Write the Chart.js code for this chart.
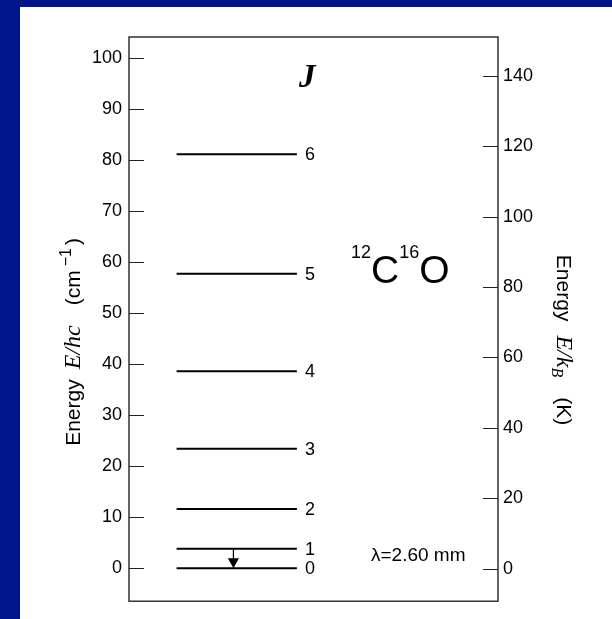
<!DOCTYPE html>
<html>
<head>
<meta charset="utf-8">
<script src="https://cdn.jsdelivr.net/npm/chart.js@4.4.0/dist/chart.umd.min.js"></script>
<style>
  html, body { margin: 0; padding: 0; background: rgb(0,21,136); width: 612px; height: 619px; overflow: hidden; }
  #wrap { position: absolute; left: 20px; top: 7px; width: 592px; height: 612px; background: #fff; }
  canvas { display: block; }
</style>
</head>
<body>
<div id="wrap"><canvas id="c" width="592" height="612"></canvas></div>
<script>
// ---- data ----
const levelJ = [0, 1, 2, 3, 4, 5, 6];
const levelEnergy = [0, 3.8, 11.6, 23.4, 38.6, 57.7, 81.1];   // E/hc in cm^-1
const leftTicks = [0, 10, 20, 30, 40, 50, 60, 70, 80, 90, 100];  // cm^-1
const rightTicks = [0, 20, 40, 60, 80, 100, 120, 140];           // K
const transitionFrom = 1;
const transitionTo = 0;
const wavelengthLabel = 'λ=2.60 mm';

// ---- layout constants (style, not data) ----
const LINE_X0 = 12.9, LINE_X1 = 45.5, LABEL_X = 47.7, ARROW_X = 28.3;
const FONT = '"Liberation Sans", Arial, sans-serif';
const SERIF = '"Liberation Serif", "Times New Roman", serif';
const OX = 20, OY = 7; // canvas offset inside page

const datasets = levelEnergy.map((e, i) => ({
  label: 'J=' + levelJ[i],
  data: [{x: LINE_X0, y: e}, {x: LINE_X1, y: e}],
  borderColor: '#000',
  borderWidth: 2,
  pointRadius: 0,
  showLine: true,
  yAxisID: 'y'
}));

function drawRich(ctx, pieces) {
  let x = 0;
  for (const p of pieces) {
    ctx.font = p.font;
    ctx.fillText(p.t, x, p.dy || 0);
    x += ctx.measureText(p.t).width + (p.gap || 0);
  }
  return x;
}
function measureRich(ctx, pieces) {
  let x = 0;
  for (const p of pieces) { ctx.font = p.font; x += ctx.measureText(p.t).width + (p.gap || 0); }
  return x;
}

const decor = {
  id: 'decor',
  afterDraw(chart) {
    const ctx = chart.ctx;
    const a = chart.chartArea;
    const ys = chart.scales.y, yr = chart.scales.yR, xs = chart.scales.x;
    ctx.save();
    // frame
    ctx.strokeStyle = '#222';
    ctx.lineWidth = 1.4;
    ctx.strokeRect(a.left, a.top, a.right - a.left, a.bottom - a.top);
    // inward ticks
    ctx.lineWidth = 1.2;
    ctx.beginPath();
    for (const v of leftTicks) {
      const py = Math.round(ys.getPixelForValue(v)) + 0.5;
      ctx.moveTo(a.left, py); ctx.lineTo(a.left + 15, py);
    }
    for (const v of rightTicks) {
      const py = Math.round(yr.getPixelForValue(v)) + 0.5;
      ctx.moveTo(a.right - 15, py); ctx.lineTo(a.right, py);
    }
    ctx.stroke();

    // J labels
    ctx.fillStyle = '#000';
    ctx.font = '18px ' + FONT;
    ctx.textAlign = 'left';
    ctx.textBaseline = 'middle';
    const lx = xs.getPixelForValue(LABEL_X);
    levelEnergy.forEach((e, i) => {
      ctx.fillText(String(levelJ[i]), lx, ys.getPixelForValue(e) + 1);
    });

    // transition arrow
    const ax = xs.getPixelForValue(ARROW_X);
    const yTop = ys.getPixelForValue(levelEnergy[transitionFrom]);
    const yTip = ys.getPixelForValue(levelEnergy[transitionTo]);
    ctx.strokeStyle = '#000';
    ctx.lineWidth = 1.3;
    ctx.beginPath(); ctx.moveTo(ax, yTop); ctx.lineTo(ax, yTip - 8); ctx.stroke();
    ctx.beginPath();
    ctx.moveTo(ax - 5.5, yTip - 10);
    ctx.lineTo(ax + 5.5, yTip - 10);
    ctx.lineTo(ax, yTip);
    ctx.closePath(); ctx.fill();

    // "J"
    ctx.textBaseline = 'alphabetic';
    ctx.font = 'italic bold 33px ' + SERIF;
    ctx.fillText('J', 299 - OX, 87 - OY);

    // 12C16O
    ctx.save();
    ctx.translate(351 - OX, 283 - OY);
    drawRich(ctx, [
      {t: '12', font: '18px ' + FONT, dy: -25},
      {t: 'C', font: '39px ' + FONT, gap: 0},
      {t: '16', font: '18px ' + FONT, dy: -25},
      {t: 'O', font: '39px ' + FONT}
    ]);
    ctx.restore();

    // wavelength
    ctx.font = '19px ' + FONT;
    ctx.fillText(wavelengthLabel, 371 - OX, 561 - OY);

    // left axis title (rotated, reading bottom to top)
    const leftPieces = [
      {t: 'Energy', font: '21px ' + FONT, gap: 10},
      {t: 'E/hc', font: 'italic 24px ' + SERIF, gap: 20},
      {t: '(cm', font: '21px ' + FONT, gap: 4},
      {t: '−1', font: '16px ' + FONT, dy: -9, gap: 3},
      {t: ')', font: '21px ' + FONT}
    ];
    ctx.save();
    const lw = measureRich(ctx, leftPieces);
    ctx.translate(80 - OX, 342 - OY);
    ctx.rotate(-Math.PI / 2);
    ctx.translate(-lw / 2, 0);
    drawRich(ctx, leftPieces);
    ctx.restore();

    // right axis title (rotated, reading top to bottom)
    const rightPieces = [
      {t: 'Energy', font: '21px ' + FONT, gap: 14},
      {t: 'E/k', font: 'italic 24px ' + SERIF},
      {t: 'B', font: 'italic 16px ' + SERIF, dy: 5, gap: 20},
      {t: '(K)', font: '21px ' + FONT}
    ];
    ctx.save();
    const rw = measureRich(ctx, rightPieces);
    ctx.translate(557 - OX, 340 - OY);
    ctx.rotate(Math.PI / 2);
    ctx.translate(-rw / 2, 0);
    drawRich(ctx, rightPieces);
    ctx.restore();

    ctx.restore();
  }
};

new Chart(document.getElementById('c'), {
  type: 'scatter',
  data: { datasets },
  options: {
    responsive: false,
    animation: false,
    events: [],
    layout: { padding: { top: 30, bottom: 13, left: 0, right: 0 } },
    plugins: { legend: { display: false }, tooltip: { enabled: false } },
    scales: {
      x: { type: 'linear', min: 0, max: 100, display: false },
      y: {
        type: 'linear', position: 'left', min: -6.47, max: 104.1,
        afterBuildTicks: s => { s.ticks = leftTicks.map(v => ({value: v})); },
        afterFit: s => { s.width = 109; },
        grid: { display: false, drawTicks: false },
        border: { display: false },
        ticks: { color: '#000', padding: 7, font: { family: FONT, size: 18 } }
      },
      yR: {
        type: 'linear', position: 'right', min: -9.2, max: 151.0,
        afterBuildTicks: s => { s.ticks = rightTicks.map(v => ({value: v})); },
        afterFit: s => { s.width = 114; },
        grid: { display: false, drawTicks: false },
        border: { display: false },
        ticks: { color: '#000', padding: 5, font: { family: FONT, size: 18 } }
      }
    }
  },
  plugins: [decor]
});
</script>
</body>
</html>
